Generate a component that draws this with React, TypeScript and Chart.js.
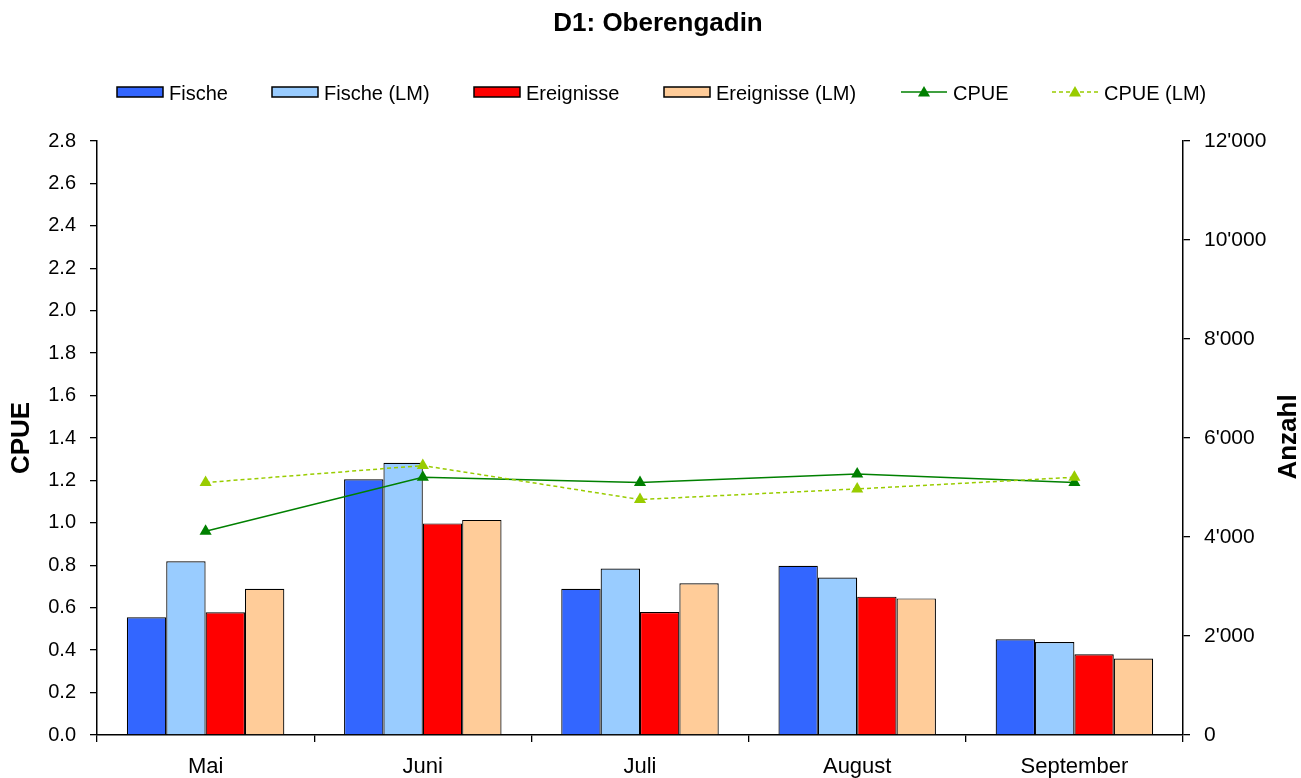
import React, { useEffect, useRef } from 'react';
import { Chart, registerables } from 'chart.js';

Chart.register(...registerables);

// ---- Data ----
const TITLE = 'D1: Oberengadin';
const months = ['Mai', 'Juni', 'Juli', 'August', 'September'];
const fische = [2380, 5165, 2955, 3420, 1935];
const fischeLM = [3510, 5500, 3365, 3180, 1880];
const ereignisse = [2480, 4275, 2485, 2795, 1630];
const ereignisseLM = [2955, 4345, 3065, 2760, 1545];
const cpue = [0.96, 1.215, 1.19, 1.23, 1.19];
const cpueLM = [1.19, 1.27, 1.11, 1.16, 1.215];
const leftTitle = 'CPUE';
const rightTitle = 'Anzahl';

// ---- Styling / layout ----
const W = 1301;
const H = 778;
const FONT = '"Liberation Sans", Arial, Helvetica, sans-serif';
const C_FISCHE = '#3366FF';
const C_FISCHE_LM = '#99CCFF';
const C_EREIG = '#FF0000';
const C_EREIG_LM = '#FFCC99';
const C_CPUE = '#008000';
const C_CPUE_LM = '#99CC00';
const DASH = [4, 3];

const legendLayout = [
  { label: 'Fische', kind: 'box', color: C_FISCHE, x: 117 },
  { label: 'Fische (LM)', kind: 'box', color: C_FISCHE_LM, x: 272 },
  { label: 'Ereignisse', kind: 'box', color: C_EREIG, x: 474 },
  { label: 'Ereignisse (LM)', kind: 'box', color: C_EREIG_LM, x: 664 },
  { label: 'CPUE', kind: 'line', color: C_CPUE, x: 901 },
  { label: 'CPUE (LM)', kind: 'dash', color: C_CPUE_LM, x: 1052 },
];

function drawTriangle(ctx: CanvasRenderingContext2D, cx: number, cy: number, r: number, color: string) {
  ctx.beginPath();
  for (let i = 0; i < 3; i++) {
    const a = (i * 2 * Math.PI) / 3;
    const px = cx + Math.sin(a) * r;
    const py = cy - Math.cos(a) * r;
    if (i === 0) ctx.moveTo(px, py);
    else ctx.lineTo(px, py);
  }
  ctx.closePath();
  ctx.fillStyle = color;
  ctx.fill();
}

const overlay = {
  id: 'overlay',
  afterDraw(chart: any) {
    const ctx: CanvasRenderingContext2D = chart.ctx;
    ctx.save();
    // Title
    ctx.fillStyle = '#000';
    ctx.font = `bold 26px ${FONT}`;
    ctx.textAlign = 'center';
    ctx.textBaseline = 'alphabetic';
    ctx.fillText(TITLE, 658, 31);

    // Legend
    const ly = 92;
    ctx.font = `20px ${FONT}`;
    ctx.textAlign = 'left';
    for (const it of legendLayout) {
      const keyW = 46;
      if (it.kind === 'box') {
        ctx.fillStyle = it.color;
        ctx.fillRect(it.x, ly - 5, keyW, 10);
        ctx.lineWidth = 1.5;
        ctx.strokeStyle = '#000';
        ctx.strokeRect(it.x, ly - 5, keyW, 10);
      } else {
        ctx.strokeStyle = it.color;
        ctx.lineWidth = 1.5;
        ctx.setLineDash(it.kind === 'dash' ? DASH : []);
        ctx.beginPath();
        ctx.moveTo(it.x, ly);
        ctx.lineTo(it.x + keyW, ly);
        ctx.stroke();
        ctx.setLineDash([]);
        drawTriangle(ctx, it.x + keyW / 2, ly + 1, 7, it.color);
      }
      ctx.fillStyle = '#000';
      ctx.fillText(it.label, it.x + keyW + 6, 100);
    }

    // Axis titles
    ctx.font = `bold 26px ${FONT}`;
    ctx.textAlign = 'center';
    ctx.textBaseline = 'middle';
    ctx.save();
    ctx.translate(22, 438);
    ctx.rotate(-Math.PI / 2);
    ctx.fillText(leftTitle, 0, 0);
    ctx.restore();
    ctx.save();
    ctx.translate(1289, 437);
    ctx.rotate(-Math.PI / 2);
    ctx.fillText(rightTitle, 0, 0);
    ctx.restore();
    ctx.restore();
  },
};

function fmtThousands(v: number) {
  const s = Math.round(v).toString();
  return s.replace(/\B(?=(\d{3})+(?!\d))/g, "'");
}

export default function App() {
  const ref = useRef<HTMLCanvasElement>(null);

  useEffect(() => {
    if (!ref.current) return;
    const barCommon = {
      type: 'bar' as const,
      yAxisID: 'y1',
      borderColor: '#000',
      borderWidth: 1.2,
      barPercentage: 1,
      categoryPercentage: 0.725,
      order: 2,
    };
    const chart = new Chart(ref.current, {
      type: 'bar',
      data: {
        labels: months,
        datasets: [
          { ...barCommon, label: 'Fische', data: fische, backgroundColor: C_FISCHE },
          { ...barCommon, label: 'Fische (LM)', data: fischeLM, backgroundColor: C_FISCHE_LM },
          { ...barCommon, label: 'Ereignisse', data: ereignisse, backgroundColor: C_EREIG },
          { ...barCommon, label: 'Ereignisse (LM)', data: ereignisseLM, backgroundColor: C_EREIG_LM },
          {
            type: 'line',
            label: 'CPUE',
            data: cpue,
            yAxisID: 'y',
            borderColor: C_CPUE,
            backgroundColor: C_CPUE,
            borderWidth: 1.5,
            pointStyle: 'triangle',
            pointRadius: 7,
            pointBorderWidth: 0,
            pointBackgroundColor: C_CPUE,
            tension: 0,
            order: 1,
          } as any,
          {
            type: 'line',
            label: 'CPUE (LM)',
            data: cpueLM,
            yAxisID: 'y',
            borderColor: C_CPUE_LM,
            backgroundColor: C_CPUE_LM,
            borderWidth: 1.5,
            borderDash: DASH,
            pointStyle: 'triangle',
            pointRadius: 7,
            pointBorderWidth: 0,
            pointBackgroundColor: C_CPUE_LM,
            tension: 0,
            order: 0,
          } as any,
        ],
      },
      options: {
        responsive: false,
        animation: false,
        devicePixelRatio: 1,
        layout: { padding: { top: 141, left: 0, right: 0, bottom: 0 } },
        plugins: {
          legend: { display: false },
          title: { display: false },
          tooltip: { enabled: false },
        },
        scales: {
          x: {
            offset: true,
            grid: {
              offset: true,
              drawOnChartArea: false,
              drawTicks: true,
              tickLength: 7,
              tickColor: '#000',
              lineWidth: 1.3,
            },
            border: { display: true, color: '#000', width: 1.5 },
            ticks: { color: '#000', font: { family: FONT, size: 22 }, padding: 12, maxRotation: 0 },
            afterFit: (s: any) => {
              s.height = H - 735;
            },
          },
          y: {
            position: 'left',
            min: 0,
            max: 2.8,
            grid: {
              drawOnChartArea: false,
              drawTicks: true,
              tickLength: 7,
              tickColor: '#000',
              lineWidth: 1.3,
            },
            border: { display: true, color: '#000', width: 1.5 },
            ticks: {
              stepSize: 0.2,
              color: '#000',
              font: { family: FONT, size: 20 },
              padding: 14,
              callback: (v: any) => Number(v).toFixed(1),
            },
            afterFit: (s: any) => {
              s.width = 97;
            },
          },
          y1: {
            position: 'right',
            min: 0,
            max: 12000,
            grid: {
              drawOnChartArea: false,
              drawTicks: true,
              tickLength: 7,
              tickColor: '#000',
              lineWidth: 1.3,
            },
            border: { display: true, color: '#000', width: 1.5 },
            ticks: {
              stepSize: 2000,
              color: '#000',
              font: { family: FONT, size: 21 },
              padding: 14,
              callback: (v: any) => fmtThousands(Number(v)),
            },
            afterFit: (s: any) => {
              s.width = W - 1183;
            },
          },
        },
      } as any,
      plugins: [overlay],
    });
    return () => chart.destroy();
  }, []);

  return (
    <div style={{ position: 'absolute', left: 0, top: 0, width: W, height: H, background: '#fff' }}>
      <canvas ref={ref} width={W} height={H} style={{ display: 'block', width: W, height: H }} />
    </div>
  );
}
